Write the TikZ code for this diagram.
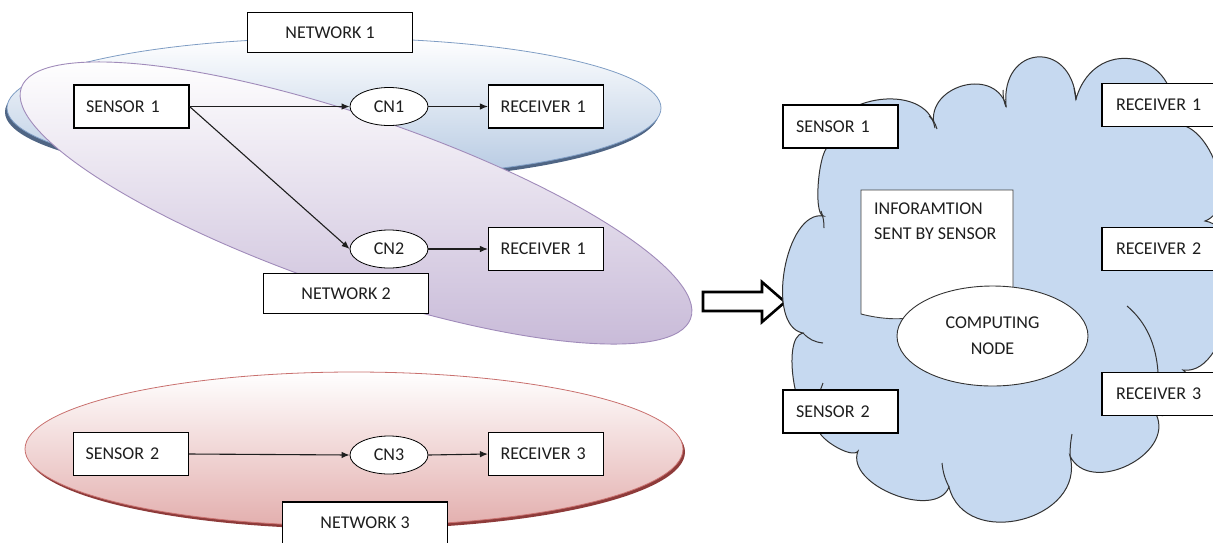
\documentclass[tikz,border=0pt]{standalone}
\usepackage{fontspec}
\setmainfont{Carlito}
\usetikzlibrary{arrows.meta,shapes.geometric}
\definecolor{blueEnd}{HTML}{B5C9E2}
\definecolor{blueEdge}{HTML}{7F9DC4}
\definecolor{blueRim}{HTML}{4F6584}
\definecolor{purpleEnd}{HTML}{C8BAD8}
\definecolor{purpleEdge}{HTML}{A08BBA}
\definecolor{redEnd}{HTML}{E3AFAE}
\definecolor{redEdge}{HTML}{C9706E}
\definecolor{redRim}{HTML}{8E3B3A}
\definecolor{cloudFill}{HTML}{C6D9F0}
\definecolor{ink}{HTML}{1E1E1E}
\begin{document}
\begin{tikzpicture}[x=1pt,y=-1pt,
  font=\fontsize{18}{21}\selectfont,
  box/.style={draw=black, line width=1.1pt, fill=white, text width=91pt,
    align=left, inner xsep=12pt, minimum height=43pt, text=ink},
  netbox/.style={draw=black, line width=1.1pt, fill=white, minimum width=165pt,
    minimum height=40pt, text=ink},
  cn/.style={draw=black, line width=0.8pt, fill=white, ellipse,
    minimum width=78pt, minimum height=38pt, inner sep=0pt, text=ink},
  link/.style={-{Latex[length=8pt,width=6.5pt]}, line width=1.1pt, ink},
  cloudline/.style={draw=black!80, line width=1pt}
]
\useasboundingbox (0,0) rectangle (1213,542);
\clip (0,0) rectangle (1213,542);

% ---- network 1 (blue) and network 2 (purple) ----
\fill[blueRim] (332,112) ellipse [x radius=327, y radius=70];
\shade[top color=white, bottom color=blueEnd, draw=blueEdge, line width=0.8pt]
  (334,108) ellipse [x radius=327, y radius=70];
\shade[rotate around={-19:(356,203)}, top color=white, bottom color=purpleEnd,
  draw=purpleEdge, line width=0.9pt]
  (356,203) ellipse [x radius=354, y radius=86];

\node[netbox] (net1) at (330,32.5) {NETWORK 1};
\node[box] (s1) at (131.5,106.5) {SENSOR 1};
\node[cn] (cn1) at (389,106.5) {CN1};
\node[box] (r1a) at (546,106.5) {RECEIVER 1};
\node[cn] (cn2) at (389,249) {CN2};
\node[box] (r1b) at (546,249) {RECEIVER 1};
\node[netbox] (net2) at (346,293.5) {NETWORK 2};

\draw[link] (s1.east) -- (cn1.west);
\draw[link] (cn1.east) -- (r1a.west);
\draw[link] (s1.east) -- (cn2.west);
\draw[link] (cn2.east) -- (r1b.west);

% ---- network 3 (red) ----
\fill[redRim] (356,452) ellipse [x radius=329, y radius=77];
\shade[top color=white, bottom color=redEnd, draw=redEdge, line width=0.8pt]
  (354,449) ellipse [x radius=329, y radius=77];

\node[box] (s2) at (131,454) {SENSOR 2};
\node[cn] (cn3) at (389,455) {CN3};
\node[box] (r3) at (546,454) {RECEIVER 3};
\node[netbox, minimum height=42pt] (net3) at (365,523) {NETWORK 3};

\draw[link] (s2.east) -- (cn3.west);
\draw[link] (cn3.east) -- (r3.west);

% ---- hollow block arrow ----
\filldraw[draw=black, fill=white, line width=2.6pt, line join=miter]
  (703,292) -- (762,292) -- (762,282) -- (785,302) -- (762,322)
  -- (762,311) -- (703,311) -- cycle;

% ---- cloud ----
\path[draw=black!80, fill=cloudFill, line width=1pt]
  (823.5,216) to[bend left=90, looseness=0.4] (830,146)
  to[bend left=90, looseness=1.2] (935,128)
  to[bend left=90, looseness=1.45] (1006,105)
  to[bend left=90, looseness=2.2] (1076,99)
  to[bend left=90, looseness=1.9] (1170,126)
  to[bend left=90, looseness=1.0] (1205,221)
  to[bend left=90, looseness=0.85] (1183,370)
  to[bend left=90, looseness=1.0] (1156,414)
  to[bend left=90, looseness=1.2] (1070,456)
  to[bend left=90, looseness=1.35] (949,487)
  to[bend left=90, looseness=0.95] (858,451)
  to[bend left=90, looseness=0.6] (819,427)
  to[bend left=90, looseness=0.62] (803,333)
  to[bend left=90, looseness=0.84] (823.5,216) -- cycle;
% inner strokes of the cloud
\draw[cloudline] (929,116) to[bend left=15] (937,129);
\draw[cloudline] (1003,90) to[bend right=10] (1006,107);
\draw[cloudline] (1074,88) -- (1076,100);
\draw[cloudline] (1127,306) .. controls (1146,322) and (1156,344) .. (1158,372);
\draw[cloudline] (803,333) to[bend right=20] (823,343);
\draw[cloudline] (821,211) to[bend left=10] (824,228);
\draw[cloudline] (823,383) -- (820,391);
\draw[cloudline] (942,463) to[bend right=10] (949,487);
\draw[cloudline] (1072,434) to[bend right=5] (1070,456);

% ---- contents of the cloud ----
\filldraw[draw=black!75, fill=white, line width=0.9pt]
  (861,190) -- (1013,190) -- (1013,302)
  .. controls (960,288) and (935,333) .. (861,314) -- cycle;
\node[anchor=north west, align=left, inner sep=0pt, text=ink,
  font=\fontsize{18}{25.5}\selectfont] (info) at (874,202.5)
  {INFORAMTION\\SENT BY SENSOR};
\node[ellipse, draw=black!80, fill=white, line width=0.9pt, minimum width=191pt,
  minimum height=100pt, inner sep=0pt, align=center, text=ink,
  font=\fontsize{18}{26}\selectfont] (comp) at (992.5,336) {COMPUTING\\NODE};

\node[box, inner xsep=13pt, text width=89pt] (cs1) at (840.5,126.5) {SENSOR 1};
\node[box, inner xsep=13pt, text width=89pt] (cs2) at (840.5,411.5) {SENSOR 2};
\node[box, inner xsep=14pt, text width=88pt] (cr1) at (1160,105) {RECEIVER 1};
\node[box, inner xsep=14pt, text width=88pt] (cr2) at (1160,249) {RECEIVER 2};
\node[box, inner xsep=14pt, text width=88pt] (cr3) at (1160,394) {RECEIVER 3};
\end{tikzpicture}
\end{document}
